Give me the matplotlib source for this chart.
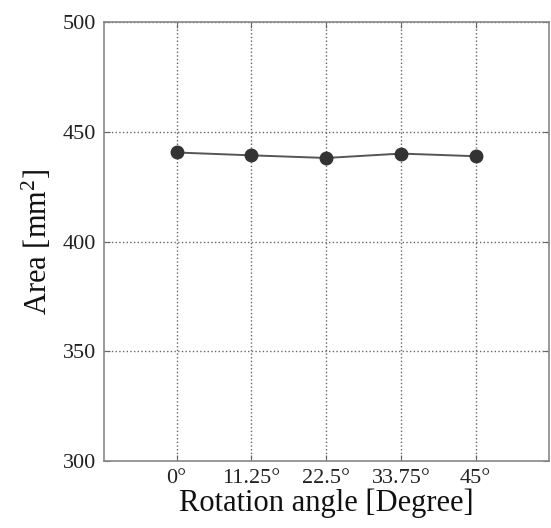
import matplotlib
matplotlib.use("Agg")
import matplotlib.pyplot as plt

angles = [0, 11.25, 22.5, 33.75, 45]
tick_labels = ["0°", "11.25°", "22.5°", "33.75°", "45°"]
area = [440.6, 439.3, 438.1, 440.1, 438.9]
y_ticks = [300, 350, 400, 450, 500]

plt.rcParams['font.family'] = ['Liberation Serif', 'DejaVu Serif']
plt.rcParams['mathtext.fontset'] = 'custom'
plt.rcParams['mathtext.rm'] = 'Liberation Serif'
plt.rcParams['mathtext.it'] = 'Liberation Serif:italic'

fig = plt.figure(figsize=(5.51, 5.28), dpi=100)
ax = fig.add_axes([0.189, 0.127, 0.807, 0.831])

ax.plot(angles, area, color='#555555', lw=1.4, marker='o', ms=9,
        markerfacecolor='#333333', markeredgecolor='#333333', zorder=3)

ax.set_xlim(-10.9, 56.0)
ax.set_ylim(300, 500)
ax.set_xticks(angles)
ax.set_xticklabels(tick_labels)
ax.set_yticks(y_ticks)
ax.grid(True, linestyle=':', color='#666666', lw=1.0)
ax.tick_params(direction='in', length=4, color='#666666', labelsize=16,
               top=True, right=True, labelcolor='#222222', pad=6)
for s in ax.spines.values():
    s.set_color('#888888')
    s.set_linewidth(1.2)

ax.set_xlabel("Rotation angle [Degree]", fontsize=22, color='#111111', labelpad=0)
ax.set_ylabel("Area [mm$^2$]", fontsize=22, color='#111111', labelpad=6)

fig.savefig("out.png", dpi=100)
